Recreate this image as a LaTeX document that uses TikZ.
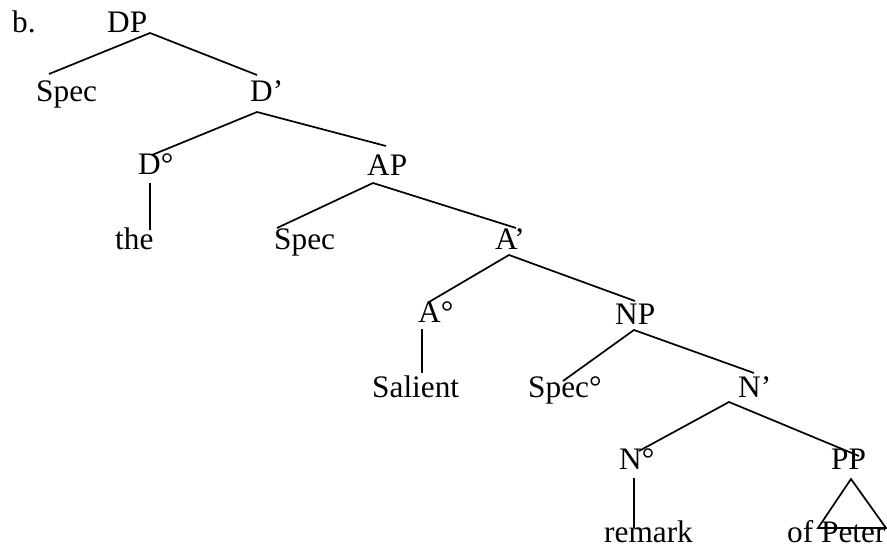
\documentclass[tikz,border=0pt]{standalone}
\usepackage{fontspec}
\setmainfont{Liberation Serif}
\begin{document}
\begin{tikzpicture}[x=1pt,y=-1pt,
  lab/.style={inner sep=0pt,anchor=base west,font=\fontsize{31.3}{36}\selectfont},
  edge/.style={line width=1.7pt,line cap=butt}]
\useasboundingbox (0,0) rectangle (887,548);
% labels
\node[lab] (b) at (12,33) {b.};
\node[lab] (DP) at (107,33) {DP};
\node[lab] (Spec1) at (36,102) {Spec};
\node[lab] (Dbar) at (250,102) {D’};
\node[lab] (D0) at (138,175) {D°};
\node[lab] (AP) at (367,176) {AP};
\node[lab] (the) at (115,250) {the};
\node[lab] (Spec2) at (274,250) {Spec};
\node[lab] (Abar) at (495,250) {A’};
\node[lab] (A0) at (418,323) {A°};
\node[lab] (NP) at (615,324) {NP};
\node[lab] (Salient) at (372,397) {Salient};
\node[lab] (Spec3) at (528,397) {Spec°};
\node[lab] (Nbar) at (738,397) {N’};
\node[lab] (N0) at (619,469) {N°};
\node[lab] (PP) at (831,469) {PP};
\node[lab] (remark) at (604,542) {remark};
\node[lab] (ofPeter) at (787,542) {of Peter};
% connector end points
\coordinate (DPb) at (150,33);
\coordinate (Spec1t) at (49,74);
\coordinate (Dbart) at (257,75);
\coordinate (Dbarb) at (257,112);
\coordinate (D0t) at (152,155);
\coordinate (APt) at (386,146);
\coordinate (D0b) at (150,183);
\coordinate (thet) at (150,230);
\coordinate (APb) at (373,183);
\coordinate (Spec2t) at (277,228);
\coordinate (Abart) at (516,228);
\coordinate (Abarb) at (509,255);
\coordinate (A0t) at (429,302);
\coordinate (NPt) at (635,301);
\coordinate (A0b) at (422,329);
\coordinate (Salientt) at (422,373);
\coordinate (NPb) at (634,330);
\coordinate (Spec3t) at (563,381);
\coordinate (Nbart) at (754,373);
\coordinate (Nbarb) at (729,402);
\coordinate (N0t) at (639,451);
\coordinate (PPt) at (859,456);
\coordinate (N0b) at (634,478);
\coordinate (remarkt) at (634,528);
\coordinate (tri1) at (851,479);
\coordinate (tri2) at (818,528);
\coordinate (tri3) at (886,528);
% connectors
\draw[edge] (Spec1t) -- (DPb) -- (Dbart);
\draw[edge] (D0t) -- (Dbarb) -- (APt);
\draw[edge] (D0b) -- (thet);
\draw[edge] (Spec2t) -- (APb) -- (Abart);
\draw[edge] (A0t) -- (Abarb) -- (NPt);
\draw[edge] (A0b) -- (Salientt);
\draw[edge] (Spec3t) -- (NPb) -- (Nbart);
\draw[edge] (N0t) -- (Nbarb) -- (PPt);
\draw[edge] (N0b) -- (remarkt);
\draw[edge,line join=miter] (tri1) -- (tri2) -- (tri3) -- cycle;
\end{tikzpicture}
\end{document}
